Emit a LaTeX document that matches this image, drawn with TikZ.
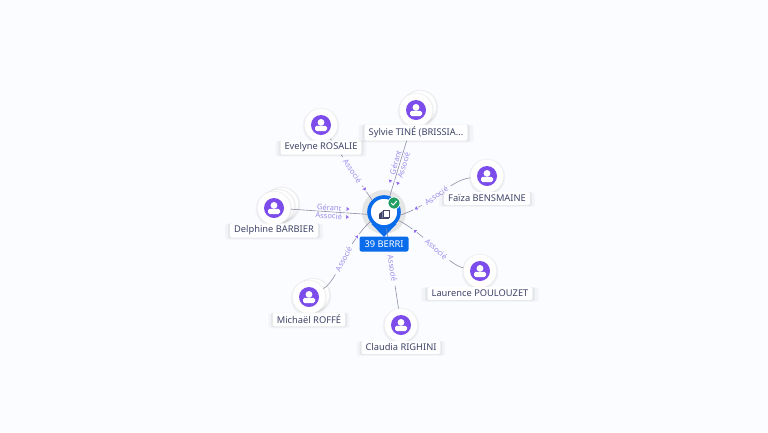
\documentclass[tikz,border=0pt]{standalone}
\usepackage{fontspec}
\setmainfont{Noto Sans}
\usetikzlibrary{shapes.geometric,shadows}
\definecolor{bgcol}{HTML}{FBFCFF}
\definecolor{iconviolet}{HTML}{7C4DEB}
\definecolor{lavender}{HTML}{9D8CEB}
\definecolor{ink}{HTML}{3F4468}
\definecolor{wirecol}{HTML}{8C8EA6}
\definecolor{pinblue}{HTML}{0A6CEB}
\definecolor{okgreen}{HTML}{1F9D63}
\tikzset{
  softshadow/.style={
    general shadow={fill=black, opacity=.03, shadow xshift=0pt, shadow yshift=-1pt, shadow scale=1.12},
    general shadow={fill=black, opacity=.05, shadow xshift=0pt, shadow yshift=-.5pt, shadow scale=1.05}},
  person/.style={circle, fill=white, draw=black!4, minimum size=33pt, inner sep=0pt, softshadow,
    path picture={
      \fill[iconviolet] (path picture bounding box.center) circle (10pt);
      \fill[white] ([yshift=2.6pt]path picture bounding box.center) circle (3.4pt);
      \fill[white, rounded corners=1.6pt] ([xshift=-6pt,yshift=-6pt]path picture bounding box.center)
        rectangle ([xshift=6pt,yshift=-.8pt]path picture bounding box.center);
    }},
  ghost/.style={circle, fill=white, draw=black!7, minimum size=33pt, inner sep=0pt, softshadow},
  nametag/.style={fill=white, rounded corners=2pt, text=ink, font=\fontsize{9.3}{10}\selectfont,
    inner xsep=4pt, inner ysep=2.5pt, minimum height=13pt, softshadow},
  wire/.style={draw=wirecol, line width=.6pt},
  rel/.style={sloped, fill=bgcol, text=lavender, inner xsep=4pt, inner ysep=.2pt, font=\fontsize{7.6}{8}\selectfont},
  tipmark/.style={isosceles triangle, isosceles triangle apex angle=70, sloped, allow upside down,
    fill=iconviolet!85, draw=bgcol, line width=1pt, inner sep=0pt, minimum size=4.5pt}
}
\begin{document}
\begin{tikzpicture}[x=1pt, y=-1pt, node distance=22.5pt]
\useasboundingbox[fill=bgcol] (0,0) rectangle (768,432);
% halo and pin
\fill[black!10] (384,212) circle (22);
\fill[pinblue] (371.5,224) -- (384,237) -- (396.5,224) -- cycle;
\node (hub)[circle, fill=white, draw=pinblue, line width=3.6pt, minimum size=30pt, inner sep=0pt] at (384,212) {};
% building icon
\fill[ink] (379,214) -- (382.5,211) -- (382.5,218) -- (379,218) -- cycle;
\draw[ink, line width=1pt] (383,210) rectangle (389,217.5);
\fill[ink] (379,218) rectangle (389,218.6);
% back circles
\node (d3)[ghost] at (282,204) {};
\node (d2)[ghost] at (278,206) {};
\node (s2)[ghost] at (420,107) {};
\node (m2)[ghost] at (313,295) {};
% people
\node (1)[person] at (321,125) {};
\node (2)[person] at (416,110) {};
\node (3)[person] at (487,176) {};
\node (4)[person] at (480,271) {};
\node (5)[person] at (401,325) {};
\node (6)[person] at (309,297) {};
\node (7)[person] at (274,208) {};
% links
\draw[wire] (1) -- (hub.135)
  node[rel, pos=.53] {Associé}
  node[tipmark, pos=.82] {};
\draw[wire] (2) -- (hub.70)
  node[rel, pos=.54, yshift=4.2pt] {Gérant}
  node[rel, pos=.54, yshift=-4.2pt] {Associé}
  node[tipmark, pos=.8, yshift=4pt] {}
  node[tipmark, pos=.8, yshift=-4pt] {};
\draw[wire] (3) .. controls (450,180) and (432,205) .. (hub.-10)
  node[rel, pos=.55] {Associé}
  node[tipmark, pos=.82] {};
\draw[wire] (4) .. controls (448,265) and (428,236) .. (hub.-30)
  node[rel, pos=.5] {Associé}
  node[tipmark, pos=.8] {};
\draw[wire] (5) -- (hub)
  node[rel, pos=.5] {Associé};
\draw[wire] (6) .. controls (338,280) and (345,245) .. (hub.215)
  node[rel, pos=.52] {Associé}
  node[tipmark, pos=.8] {};
\draw[wire] (7) -- (hub.188)
  node[rel, pos=.5, yshift=4pt] {Gérant}
  node[rel, pos=.5, yshift=-4pt] {Associé}
  node[tipmark, pos=.74, yshift=4pt] {}
  node[tipmark, pos=.74, yshift=-4pt] {};
% badge
\node (check)[circle, fill=okgreen, draw=white, line width=.7pt, minimum size=12pt, inner sep=0pt] at (394,203) {};
\draw[white, line width=1pt] (391.2,203) -- (393.2,205) -- (396.8,201);
% names
\node (n1)[nametag, below of=1] {Evelyne ROSALIE};
\node (n2)[nametag, below of=2] {Sylvie TINÉ (BRISSIA...};
\node (n3)[nametag, below of=3] {Faïza BENSMAINE};
\node (n4)[nametag, below of=4] {Laurence POULOUZET};
\node (n5)[nametag, below of=5] {Claudia RIGHINI};
\node (n6)[nametag, below of=6] {Michaël ROFFÉ};
\node (n7)[nametag, below of=7] {Delphine BARBIER};
\node (berri)[fill=pinblue, rounded corners=2pt, text=white, font=\fontsize{9.3}{10}\selectfont,
  minimum width=49pt, minimum height=15pt, inner sep=0pt] at (384,244) {39 BERRI};
\end{tikzpicture}
\end{document}
